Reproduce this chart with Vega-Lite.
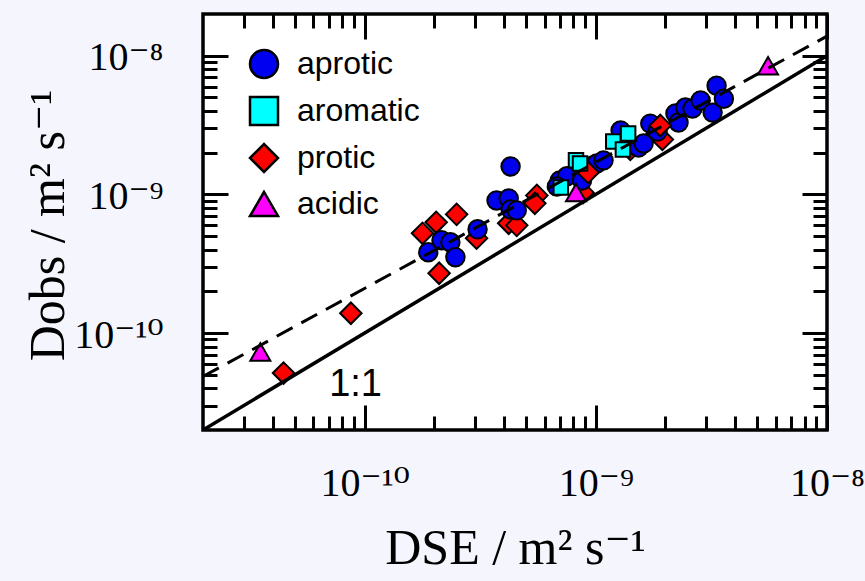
{
  "$schema": "https://vega.github.io/schema/vega-lite/v6.json",
  "width": 624,
  "height": 416,
  "autosize": {"type": "none"},
  "padding": {"left": 203, "top": 14, "right": 38, "bottom": 151},
  "background": "#f5f6fd",
  "config": {
    "view": {"stroke": "black", "strokeWidth": 3.5, "fill": "white"},
    "axis": {"grid": false, "domain": false, "tickColor": "black", "tickWidth": 3, "labelColor": "black", "labelFont": "Liberation Serif, DejaVu Serif", "labelFontSize": 40, "titleFont": "Liberation Serif, DejaVu Serif", "titleFontSize": 50, "titleFontWeight": "normal", "titleColor": "black", "labelFlush": false, "labelOverlap": false, "labelBound": false}
  },
  "datasets": {
    "pts": [
      {"c": "protic", "x": 4.46e-11, "y": 5.15e-11},
      {"c": "protic", "x": 8.72e-11, "y": 1.39e-10},
      {"c": "protic", "x": 1.78e-10, "y": 5.24e-10},
      {"c": "protic", "x": 2.04e-10, "y": 6.29e-10},
      {"c": "protic", "x": 2.50e-10, "y": 7.18e-10},
      {"c": "protic", "x": 2.10e-10, "y": 2.70e-10},
      {"c": "protic", "x": 3.05e-10, "y": 4.83e-10},
      {"c": "protic", "x": 4.20e-10, "y": 6.19e-10},
      {"c": "protic", "x": 4.55e-10, "y": 5.98e-10},
      {"c": "protic", "x": 5.56e-10, "y": 9.84e-10},
      {"c": "protic", "x": 5.45e-10, "y": 8.62e-10},
      {"c": "protic", "x": 8.81e-10, "y": 1.03e-9},
      {"c": "protic", "x": 1.41e-9, "y": 2.11e-9},
      {"c": "protic", "x": 1.94e-9, "y": 2.49e-9},
      {"c": "aprotic", "x": 1.885e-10, "y": 3.83e-10},
      {"c": "aprotic", "x": 2.15e-10, "y": 4.67e-10},
      {"c": "aprotic", "x": 2.35e-10, "y": 4.52e-10},
      {"c": "aprotic", "x": 2.47e-10, "y": 3.52e-10},
      {"c": "aprotic", "x": 3.08e-10, "y": 5.60e-10},
      {"c": "aprotic", "x": 3.72e-10, "y": 9.05e-10},
      {"c": "aprotic", "x": 4.20e-10, "y": 9.36e-10},
      {"c": "aprotic", "x": 4.28e-10, "y": 7.80e-10},
      {"c": "aprotic", "x": 4.55e-10, "y": 7.67e-10},
      {"c": "aprotic", "x": 4.28e-10, "y": 1.59e-9},
      {"c": "aprotic", "x": 6.99e-10, "y": 1.26e-9},
      {"c": "aprotic", "x": 7.50e-10, "y": 1.35e-9},
      {"c": "aprotic", "x": 6.79e-10, "y": 1.14e-9},
      {"c": "aprotic", "x": 8.72e-10, "y": 1.26e-9},
      {"c": "aprotic", "x": 8.89e-10, "y": 1.59e-9},
      {"c": "aprotic", "x": 9.73e-10, "y": 1.62e-9},
      {"c": "aprotic", "x": 1.01e-9, "y": 1.67e-9},
      {"c": "aprotic", "x": 1.08e-9, "y": 1.76e-9},
      {"c": "aprotic", "x": 1.28e-9, "y": 2.89e-9},
      {"c": "aprotic", "x": 1.53e-9, "y": 2.18e-9},
      {"c": "aprotic", "x": 1.61e-9, "y": 2.33e-9},
      {"c": "aprotic", "x": 1.72e-9, "y": 3.24e-9},
      {"c": "aprotic", "x": 1.85e-9, "y": 2.84e-9},
      {"c": "aprotic", "x": 2.21e-9, "y": 3.83e-9},
      {"c": "aprotic", "x": 2.28e-9, "y": 3.30e-9},
      {"c": "aprotic", "x": 2.44e-9, "y": 4.23e-9},
      {"c": "aprotic", "x": 2.62e-9, "y": 4.16e-9},
      {"c": "aprotic", "x": 2.84e-9, "y": 4.75e-9},
      {"c": "aprotic", "x": 3.20e-9, "y": 3.89e-9},
      {"c": "aprotic", "x": 3.33e-9, "y": 6.08e-9},
      {"c": "aprotic", "x": 3.58e-9, "y": 4.90e-9},
      {"c": "protic", "x": 9.26e-10, "y": 1.44e-9},
      {"c": "protic", "x": 1.90e-9, "y": 3.14e-9},
      {"c": "aromatic", "x": 7.06e-10, "y": 1.12e-9},
      {"c": "aromatic", "x": 8.21e-10, "y": 1.76e-9},
      {"c": "aromatic", "x": 8.55e-10, "y": 1.67e-9},
      {"c": "aromatic", "x": 1.19e-9, "y": 2.41e-9},
      {"c": "aromatic", "x": 1.38e-9, "y": 2.75e-9},
      {"c": "aromatic", "x": 1.31e-9, "y": 2.11e-9},
      {"c": "acidic", "x": 3.54e-11, "y": 7.30e-11},
      {"c": "acidic", "x": 8.21e-10, "y": 1.03e-9},
      {"c": "acidic", "x": 5.56e-9, "y": 8.47e-9}
    ],
    "oneToOne": [
      {"x": 2e-11, "y": 2e-11},
      {"x": 1e-8, "y": 1e-8}
    ],
    "fit": [
      {"x": 2e-11, "y": 4.86e-11},
      {"x": 1e-8, "y": 1.384e-8}
    ],
    "note": [
      {"x": 9.14e-11, "y": 4.23e-11, "label": "1:1"}
    ]
  },
  "layer": [
    {
      "data": {"name": "pts"},
      "mark": {"type": "point", "filled": true, "stroke": "black", "strokeWidth": 2, "opacity": 1},
      "encoding": {
        "x": {"field": "x", "type": "quantitative", "scale": {"type": "log", "domain": [2e-11, 1e-8], "nice": false},
          "axis": {"orient": "bottom", "values": [1e-10, 1e-9, 1e-8], "tickSize": -25, "labelPadding": 90, "labelBaseline": "alphabetic",
            "labelExpr": "datum.value < 3e-10 ? '10⁻¹⁰' : (datum.value < 3e-9 ? '10⁻⁹' : '10⁻⁸')",
            "title": "DSE / m² s⁻¹", "titleBaseline": "alphabetic", "titleY": 133}},
        "y": {"field": "y", "type": "quantitative", "scale": {"type": "log", "domain": [2e-11, 2e-8], "nice": false},
          "axis": {"orient": "left", "values": [1e-10, 1e-9, 1e-8], "tickSize": -25, "labelPadding": 65, "labelOffset": 2,
            "labelExpr": "datum.value < 3e-10 ? '10⁻¹⁰' : (datum.value < 3e-9 ? '10⁻⁹' : '10⁻⁸')",
            "title": "Dobs / m² s⁻¹", "titleBaseline": "alphabetic", "titleX": -140, "titleY": 211}},
        "color": {"field": "c", "type": "nominal",
          "scale": {"domain": ["aprotic", "aromatic", "protic", "acidic"], "range": ["#0000f0", "#00ffff", "#ff0000", "#ff00ff"]},
          "legend": {"title": null, "orient": "none", "legendX": 45, "legendY": 34, "padding": 0, "labelFont": "Liberation Sans", "labelFontSize": 32, "labelColor": "black", "labelOffset": 17, "rowPadding": 9, "symbolSize": 784, "symbolStrokeColor": "black", "symbolStrokeWidth": 2.5}},
        "shape": {"field": "c", "type": "nominal",
          "scale": {"domain": ["aprotic", "aromatic", "protic", "acidic"], "range": ["circle", "square", "diamond", "triangle-up"]},
          "legend": {"title": null, "orient": "none", "legendX": 45, "legendY": 34, "padding": 0, "labelFont": "Liberation Sans", "labelFontSize": 32, "labelColor": "black", "labelOffset": 17, "rowPadding": 9, "symbolSize": 784, "symbolStrokeColor": "black", "symbolStrokeWidth": 2.5}},
        "size": {"field": "c", "type": "nominal",
          "scale": {"type": "ordinal", "domain": ["protic", "aprotic", "acidic", "aromatic"], "range": [460, 340, 400, 210]},
          "legend": null}
      }
    },
    {
      "data": {"name": "oneToOne"},
      "mark": {"type": "line", "color": "black", "strokeWidth": 3.5, "clip": true},
      "encoding": {
        "x": {"field": "x", "type": "quantitative", "scale": {"type": "log", "domain": [2e-11, 1e-8], "nice": false},
          "axis": {"orient": "bottom", "values": [3e-11, 4e-11, 5e-11, 6e-11, 7e-11, 8e-11, 9e-11, 2e-10, 3e-10, 4e-10, 5e-10, 6e-10, 7e-10, 8e-10, 9e-10, 2e-9, 3e-9, 4e-9, 5e-9, 6e-9, 7e-9, 8e-9, 9e-9], "tickSize": -14, "labels": false, "title": null}},
        "y": {"field": "y", "type": "quantitative", "scale": {"type": "log", "domain": [2e-11, 2e-8], "nice": false},
          "axis": {"orient": "left", "values": [3e-11, 4e-11, 5e-11, 6e-11, 7e-11, 8e-11, 9e-11, 2e-10, 3e-10, 4e-10, 5e-10, 6e-10, 7e-10, 8e-10, 9e-10, 2e-9, 3e-9, 4e-9, 5e-9, 6e-9, 7e-9, 8e-9, 9e-9], "tickSize": -14, "labels": false, "title": null}}
      }
    },
    {
      "data": {"name": "fit"},
      "mark": {"type": "line", "color": "black", "strokeWidth": 3, "strokeDash": [18, 10], "clip": true},
      "encoding": {
        "x": {"field": "x", "type": "quantitative", "scale": {"type": "log", "domain": [2e-11, 1e-8], "nice": false},
          "axis": {"orient": "top", "values": [1e-10, 1e-9, 1e-8], "tickSize": -25, "labels": false, "title": null}},
        "y": {"field": "y", "type": "quantitative", "scale": {"type": "log", "domain": [2e-11, 2e-8], "nice": false},
          "axis": {"orient": "right", "values": [1e-10, 1e-9, 1e-8], "tickSize": -25, "labels": false, "title": null}}
      }
    },
    {
      "data": {"name": "note"},
      "mark": {"type": "text", "font": "Liberation Sans", "fontSize": 38, "color": "black", "align": "center", "baseline": "middle"},
      "encoding": {
        "text": {"field": "label"},
        "x": {"field": "x", "type": "quantitative", "scale": {"type": "log", "domain": [2e-11, 1e-8], "nice": false},
          "axis": {"orient": "top", "values": [3e-11, 4e-11, 5e-11, 6e-11, 7e-11, 8e-11, 9e-11, 2e-10, 3e-10, 4e-10, 5e-10, 6e-10, 7e-10, 8e-10, 9e-10, 2e-9, 3e-9, 4e-9, 5e-9, 6e-9, 7e-9, 8e-9, 9e-9], "tickSize": -14, "labels": false, "title": null}},
        "y": {"field": "y", "type": "quantitative", "scale": {"type": "log", "domain": [2e-11, 2e-8], "nice": false},
          "axis": {"orient": "right", "values": [3e-11, 4e-11, 5e-11, 6e-11, 7e-11, 8e-11, 9e-11, 2e-10, 3e-10, 4e-10, 5e-10, 6e-10, 7e-10, 8e-10, 9e-10, 2e-9, 3e-9, 4e-9, 5e-9, 6e-9, 7e-9, 8e-9, 9e-9], "tickSize": -14, "labels": false, "title": null}}
      }
    }
  ],
  "resolve": {"axis": {"x": "independent", "y": "independent"}}
}
